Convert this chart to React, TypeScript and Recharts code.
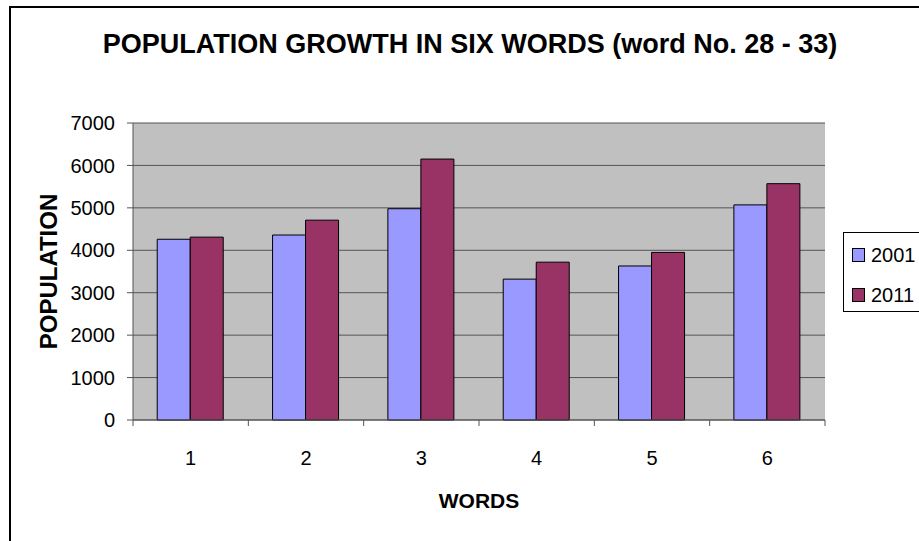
import { BarChart, Bar, XAxis, YAxis, CartesianGrid, Legend } from 'recharts';

const FONT = '"Liberation Sans", Arial, sans-serif';

const words = ['1', '2', '3', '4', '5', '6'];
const pop2001 = [4260, 4360, 4980, 3320, 3630, 5070];
const pop2011 = [4310, 4710, 6150, 3720, 3950, 5570];
const yTicks = [0, 1000, 2000, 3000, 4000, 5000, 6000, 7000];

const SERIES = [
  { key: 'y2001', name: '2001', color: '#9999FF', values: pop2001 },
  { key: 'y2011', name: '2011', color: '#993366', values: pop2011 },
];

const data = words.map((w, i) => {
  const row: Record<string, string | number> = { word: w };
  SERIES.forEach((s) => { row[s.key] = s.values[i]; });
  return row;
});

// Excel-style x tick: label at the centre, tick marks at the category boundaries
function WordTick(props: any) {
  const { x, y, payload, index } = props;
  const half = payload?.offset ?? 57.7;
  const axisY = y - 31;
  return (
    <g>
      <line x1={x - half} x2={x - half} y1={axisY} y2={axisY + 6} stroke="#555" />
      {index === words.length - 1 && (
        <line x1={x + half} x2={x + half} y1={axisY} y2={axisY + 6} stroke="#555" />
      )}
      <text x={x} y={y} dy="0.71em" textAnchor="middle" fontSize={20} fontFamily={FONT} fill="#000">
        {payload.value}
      </text>
    </g>
  );
}

function PopLabel(props: any) {
  const vb = props.viewBox || {};
  const cx = 48;
  const cy = (vb.y ?? 123) + (vb.height ?? 297) / 2;
  return (
    <text
      x={cx}
      y={cy}
      transform={`rotate(-90 ${cx} ${cy})`}
      textAnchor="middle"
      dominantBaseline="central"
      fontSize={24}
      fontWeight="bold"
      fontFamily={FONT}
      fill="#000"
    >
      POPULATION
    </text>
  );
}

function LegendBox() {
  return (
    <div
      style={{
        width: 100,
        height: 80,
        boxSizing: 'border-box',
        border: '1px solid #000',
        background: '#fff',
        paddingTop: 2,
        fontFamily: FONT,
        fontSize: 20,
        textAlign: 'left',
      }}
    >
      {SERIES.map((s) => (
        <div key={s.key} style={{ height: 40, display: 'flex', alignItems: 'center', paddingLeft: 8 }}>
          <span
            style={{
              display: 'inline-block',
              width: 11,
              height: 12,
              background: s.color,
              border: '1px solid #000',
              marginRight: 6,
            }}
          />
          <span>{s.name}</span>
        </div>
      ))}
    </div>
  );
}

export default function App() {
  return (
    <div
      style={{
        position: 'fixed',
        left: 0,
        top: 0,
        width: 919,
        height: 541,
        overflow: 'hidden',
        background: '#fff',
      }}
    >
      <div
        style={{
          position: 'absolute',
          left: 9,
          top: 6,
          width: 1000,
          height: 1000,
          border: '2px solid #000',
        }}
      />
      <div
        style={{
          position: 'absolute',
          left: 0,
          top: 28,
          width: 940,
          textAlign: 'center',
          fontFamily: FONT,
          fontWeight: 'bold',
          fontSize: 27,
          color: '#000',
          lineHeight: '32px',
        }}
      >
        POPULATION GROWTH IN SIX WORDS (word No. 28 - 33)
      </div>
      <div style={{ position: 'absolute', left: 0, top: 0 }}>
        <BarChart
          width={919}
          height={541}
          data={data}
          margin={{ top: 123, right: 94, left: 0, bottom: 0 }}
          barCategoryGap="21%"
          barGap={0}
        >
          <CartesianGrid vertical={false} fill="#C0C0C0" stroke="#555" />
          <XAxis
            dataKey="word"
            height={121}
            tickLine={false}
            axisLine={{ stroke: '#555' }}
            tickMargin={25}
            tick={<WordTick />}
            interval={0}
            label={{
              value: 'WORDS',
              position: 'insideBottom',
              offset: 33,
              fontSize: 21,
              fontWeight: 'bold',
              fontFamily: FONT,
              fill: '#000',
            }}
          />
          <YAxis
            width={133}
            domain={[0, 7000]}
            ticks={yTicks}
            interval={0}
            tickSize={6}
            tickMargin={12}
            tickLine={{ stroke: '#555' }}
            axisLine={{ stroke: '#555' }}
            tick={{ fontSize: 20, fontFamily: FONT, fill: '#000' }}
            label={<PopLabel />}
          />
          <YAxis
            yAxisId="frame"
            orientation="right"
            width={0}
            domain={[0, 7000]}
            tick={false}
            tickLine={false}
            axisLine={{ stroke: '#8a8a8a' }}
          />
          <Legend
            layout="vertical"
            verticalAlign="middle"
            align="center"
            wrapperStyle={{ position: 'absolute', left: 843, top: 232, width: 100 }}
            content={<LegendBox />}
          />
          {SERIES.map((s) => (
            <Bar
              key={s.key}
              dataKey={s.key}
              name={s.name}
              fill={s.color}
              stroke="#000"
              strokeWidth={1}
              isAnimationActive={false}
            />
          ))}
        </BarChart>
      </div>
    </div>
  );
}
